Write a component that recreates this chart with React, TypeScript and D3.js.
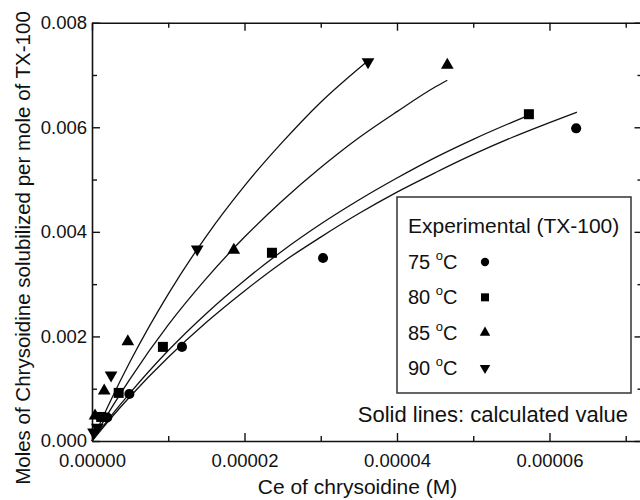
import React, { useEffect, useRef } from "react";
import * as d3 from "d3";

// experimental points (Ce in M, moles solubilized per mole TX-100)
const exp75x = [0.0000020, 0.0000049, 0.0000118, 0.0000303, 0.0000635];
const exp75y = [0.00045, 0.0009, 0.0018, 0.0035, 0.00598];
const exp80x = [0.0000012, 0.0000035, 0.0000093, 0.0000236, 0.0000573];
const exp80y = [0.00046, 0.00092, 0.0018, 0.0036, 0.00625];
const exp85x = [0.0000004, 0.0000016, 0.0000047, 0.0000186, 0.0000466];
const exp85y = [0.00048, 0.00096, 0.0019, 0.00365, 0.00719];
const exp90x = [0.0000002, 0.0000007, 0.0000025, 0.0000138, 0.0000362];
const exp90y = [0.00017, 0.00026, 0.00126, 0.00367, 0.00725];

// calculated lines
const calc75x = [0, 0.25e-5, 0.5e-5, 1e-5, 1.5e-5, 2e-5, 2.5e-5, 3e-5, 3.5e-5, 4e-5, 4.5e-5, 5e-5, 5.5e-5, 6e-5, 6.36e-5];
const calc75y = [0, 0.00044, 0.00085, 0.0016, 0.00227, 0.00287, 0.00342, 0.0039, 0.00435, 0.00476, 0.00513, 0.00548, 0.0058, 0.00609, 0.00629];
const calc80x = [0, 0.25e-5, 0.5e-5, 1e-5, 1.5e-5, 2e-5, 2.5e-5, 3e-5, 3.5e-5, 4e-5, 4.5e-5, 5e-5, 5.5e-5, 5.73e-5];
const calc80y = [0, 0.00048, 0.00092, 0.00173, 0.00244, 0.00307, 0.00364, 0.00415, 0.00461, 0.00503, 0.00542, 0.00577, 0.00609, 0.00623];
const calc85x = [0, 0.25e-5, 0.5e-5, 1e-5, 1.5e-5, 2e-5, 2.5e-5, 3e-5, 3.5e-5, 4e-5, 4.5e-5, 4.66e-5];
const calc85y = [0, 0.00062, 0.00119, 0.00222, 0.00311, 0.0039, 0.0046, 0.00523, 0.0058, 0.0063, 0.00677, 0.0069];
const calc90x = [0, 0.25e-5, 0.5e-5, 1e-5, 1.5e-5, 2e-5, 2.5e-5, 3e-5, 3.6e-5];
const calc90y = [0, 0.00079, 0.00152, 0.00281, 0.00392, 0.00488, 0.00572, 0.00648, 0.00725];

const temps = ["75", "80", "85", "90"];
const xMajor = [0, 0.00002, 0.00004, 0.00006];
const xMinor = [0.00001, 0.00003, 0.00005, 0.00007];
const yMajor = [0, 0.002, 0.004, 0.006, 0.008];
const yMinor = [0.001, 0.003, 0.005, 0.007];

const FONT = "'Liberation Sans', Arial, Helvetica, sans-serif";

const series = [
	{ ex: exp75x, ey: exp75y, cx: calc75x, cy: calc75y, type: d3.symbolCircle, size: 80, legSize: 55, rot: 0 },
	{ ex: exp80x, ey: exp80y, cx: calc80x, cy: calc80y, type: d3.symbolSquare, size: 100, legSize: 64, rot: 0 },
	{ ex: exp85x, ey: exp85y, cx: calc85x, cy: calc85y, type: d3.symbolTriangle, size: 70, legSize: 48, rot: 0 },
	{ ex: exp90x, ey: exp90y, cx: calc90x, cy: calc90y, type: d3.symbolTriangle, size: 70, legSize: 48, rot: 180 }
];

export default function App() {
	const ref = useRef<SVGSVGElement | null>(null);

	useEffect(() => {
		const node = ref.current;
		if (!node) return;
		while (node.firstChild) node.removeChild(node.firstChild);

		const left = 92, right = 642.5, top = 22.7, bottom = 441;
		const x = d3.scaleLinear().domain([0, 0.0000722]).range([left, right]);
		const y = d3.scaleLinear().domain([0, 0.008]).range([bottom, top]);

		const svg = d3.select(node);
		svg.append("rect").attr("width", 640).attr("height", 500).attr("fill", "#fff");

		const styleAxis = (g: any, showLabels: boolean) => {
			g.select(".domain").attr("stroke", "#111").attr("stroke-width", 1.6);
			g.selectAll(".tick line").attr("stroke", "#111").attr("stroke-width", 1.4);
			g.selectAll(".tick text")
				.attr("fill", "#111")
				.style("font-family", FONT)
				.style("font-size", "18.5px")
				.style("display", showLabels ? null : "none");
		};

		// minor ticks first, then major axes on top
		const addMinor = (axis: any, transform: string) => {
			const g = svg.append("g").attr("transform", transform).call(axis);
			g.select(".domain").remove();
			g.selectAll("text").remove();
			g.selectAll(".tick line").attr("stroke", "#111").attr("stroke-width", 1.4);
		};
		addMinor(d3.axisBottom(x).tickValues(xMinor).tickSizeInner(-5).tickSizeOuter(0), `translate(0,${bottom})`);
		addMinor(d3.axisTop(x).tickValues(xMinor).tickSizeInner(-5).tickSizeOuter(0), `translate(0,${top})`);
		addMinor(d3.axisLeft(y).tickValues(yMinor).tickSizeInner(-5).tickSizeOuter(0), `translate(${left},0)`);
		addMinor(d3.axisRight(y).tickValues(yMinor).tickSizeInner(-5).tickSizeOuter(0), `translate(${right},0)`);

		const xb = svg.append("g").attr("transform", `translate(0,${bottom})`)
			.call(d3.axisBottom(x).tickValues(xMajor).tickSizeInner(-8).tickSizeOuter(0).tickPadding(13).tickFormat(d3.format(".5f")));
		styleAxis(xb, true);
		const xt = svg.append("g").attr("transform", `translate(0,${top})`)
			.call(d3.axisTop(x).tickValues(xMajor).tickSizeInner(-8).tickSizeOuter(0));
		styleAxis(xt, false);
		const yl = svg.append("g").attr("transform", `translate(${left},0)`)
			.call(d3.axisLeft(y).tickValues(yMajor).tickSizeInner(-8).tickSizeOuter(0).tickPadding(5).tickFormat(d3.format(".3f")));
		styleAxis(yl, true);
		const yr = svg.append("g").attr("transform", `translate(${right},0)`)
			.call(d3.axisRight(y).tickValues(yMajor).tickSizeInner(-8).tickSizeOuter(0));
		styleAxis(yr, false);

		// axis titles
		svg.append("text")
			.attr("x", (left + 625) / 2 - 1)
			.attr("y", 494)
			.attr("text-anchor", "middle")
			.style("font-family", FONT)
			.style("font-size", "21px")
			.attr("fill", "#111")
			.text("Ce of chrysoidine (M)");
		svg.append("text")
			.attr("transform", "rotate(-90)")
			.attr("x", -248)
			.attr("y", 30)
			.attr("text-anchor", "middle")
			.style("font-family", FONT)
			.style("font-size", "20.5px")
			.attr("fill", "#111")
			.text("Moles of Chrysoidine solubilized per mole of TX-100");

		// calculated lines
		const line = d3.line<[number, number]>()
			.x(d => x(d[0]))
			.y(d => y(d[1]))
			.curve(d3.curveMonotoneX);
		series.forEach(s => {
			const pts = s.cx.map((v, i) => [v, s.cy[i]] as [number, number]);
			svg.append("path")
				.attr("d", line(pts))
				.attr("fill", "none")
				.attr("stroke", "#111")
				.attr("stroke-width", 1.3);
		});

		// experimental points
		series.forEach(s => {
			const sym = d3.symbol().type(s.type).size(s.size);
			svg.append("g")
				.selectAll("path")
				.data(s.ex.map((v, i) => [v, s.ey[i]]))
				.enter()
				.append("path")
				.attr("d", sym() as string)
				.attr("fill", "#000")
				.attr("transform", d => `translate(${x(d[0])},${y(d[1])}) rotate(${s.rot})`);
		});

		// legend
		const lg = svg.append("g");
		lg.append("rect")
			.attr("x", 397).attr("y", 197).attr("width", 234).attr("height", 196)
			.attr("fill", "#fff").attr("stroke", "#333").attr("stroke-width", 1.5);
		lg.append("text")
			.attr("x", 408).attr("y", 233)
			.style("font-family", FONT).style("font-size", "21px").attr("fill", "#111")
			.text("Experimental (TX-100)");
		const rowY = d3.scaleLinear().domain([0, 3]).range([262, 368]);
		temps.forEach((t, i) => {
			const cy = rowY(i);
			const txt = lg.append("text")
				.attr("x", 408).attr("y", cy + 7)
				.style("font-family", FONT).style("font-size", "20px").attr("fill", "#111");
			txt.append("tspan").text(t + " ");
			txt.append("tspan").attr("dy", -9).style("font-size", "13px").text("o");
			txt.append("tspan").attr("dy", 9).text("C");
			const s = series[i];
			lg.append("path")
				.attr("d", d3.symbol().type(s.type).size(s.legSize)() as string)
				.attr("fill", "#000")
				.attr("transform", `translate(485,${cy}) rotate(${s.rot})`);
		});

		svg.append("text")
			.attr("x", 628).attr("y", 422)
			.attr("text-anchor", "end")
			.style("font-family", FONT).style("font-size", "22px").attr("fill", "#111")
			.text("Solid lines: calculated value");
	}, []);

	return (
		<svg
			ref={ref}
			width={640}
			height={500}
			style={{ position: "absolute", left: 0, top: 0 }}
		/>
	);
}
